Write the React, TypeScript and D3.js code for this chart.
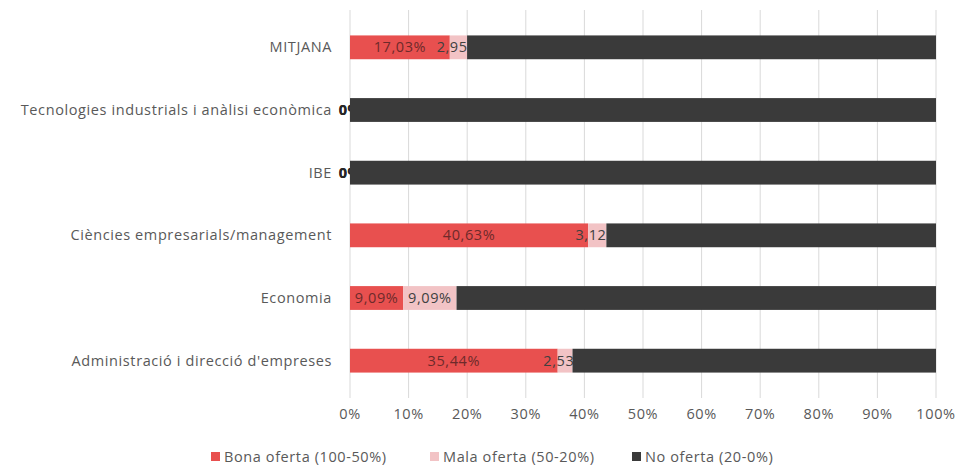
import React from "react";
import * as d3 from "d3";

const categories = [
  "MITJANA",
  "Tecnologies industrials i anàlisi econòmica",
  "IBE",
  "Ciències empresarials/management",
  "Economia",
  "Administració i direcció d'empreses",
];
const bona = [17.03, 0, 0, 40.63, 9.09, 35.44];
const mala = [2.95, 0, 0, 3.12, 9.09, 2.53];
const noOferta = [80.02, 100, 100, 56.25, 81.82, 62.03];
const seriesNames = ["Bona oferta (100-50%)", "Mala oferta (50-20%)", "No oferta (20-0%)"];
const seriesColors = ["#E8504F", "#F2C3C5", "#3A3A3A"];
const xTicks = [0, 10, 20, 30, 40, 50, 60, 70, 80, 90, 100];

const W = 961;
const H = 474;
const FONT = "'Open Sans', sans-serif";
const FS = 14.5;
const LS = 0.6;

function fmt(v: number) {
  if (v === 0) return "0%";
  return d3.format(".2f")(v).replace(".", ",") + "%";
}

export default function App() {
  const x = d3.scaleLinear().domain([0, 100]).range([350, 936]);
  const y = d3.scaleBand<string>().domain(categories).range([16, 392]).paddingInner(0.62).paddingOuter(0.31);
  const bh = y.bandwidth();
  const series = [bona, mala, noOferta];

  return (
    <div style={{ position: "absolute", left: 0, top: 0 }}>
      <svg width={W} height={H} style={{ display: "block", background: "#fff" }} fontFamily={FONT} letterSpacing={LS}>
        {xTicks.map((t) => (
          <line key={"g" + t} x1={x(t)} x2={x(t)} y1={10} y2={398} stroke="#D9D9D9" strokeWidth={1} />
        ))}
        {xTicks.map((t) => (
          <text key={"t" + t} x={x(t)} y={419} textAnchor="middle" fontSize={FS} fill="#595959">
            {t + "%"}
          </text>
        ))}
        {categories.map((c) => (
          <text key={"c" + c} x={332} y={(y(c) as number) + bh / 2 + 5} textAnchor="end" fontSize={FS} fill="#595959">
            {c}
          </text>
        ))}
        {categories.map((c, i) => {
          const yy = y(c) as number;
          let acc = 0;
          const parts: any[] = [];
          series.forEach((s, si) => {
            const v = s[i];
            const x0 = x(acc);
            const x1 = x(acc + v);
            acc += v;
            parts.push(
              <rect key={"r" + si} x={x0} y={yy} width={Math.max(0, x1 - x0)} height={bh} fill={seriesColors[si]} />
            );
            if (si < 2) {
              parts.push(
                <text
                  key={"l" + si}
                  x={(x0 + x1) / 2}
                  y={yy + bh / 2 + 5}
                  textAnchor="middle"
                  fontSize={FS}
                  fill={v === 0 ? "#262626" : si === 0 ? "#6E2A2A" : "#404040"}
                  fontWeight={v === 0 ? "bold" : "normal"}
                >
                  {fmt(v)}
                </text>
              );
            }
          });
          return <g key={"b" + c}>{parts}</g>;
        })}
        {seriesNames.map((n, i) => {
          const lx = [211, 430, 632][i];
          return (
            <g key={"lg" + i}>
              <rect x={lx} y={452} width={9} height={9} fill={seriesColors[i]} />
              <text x={lx + 13} y={462} fontSize={FS} fill="#595959">
                {n}
              </text>
            </g>
          );
        })}
      </svg>
    </div>
  );
}
